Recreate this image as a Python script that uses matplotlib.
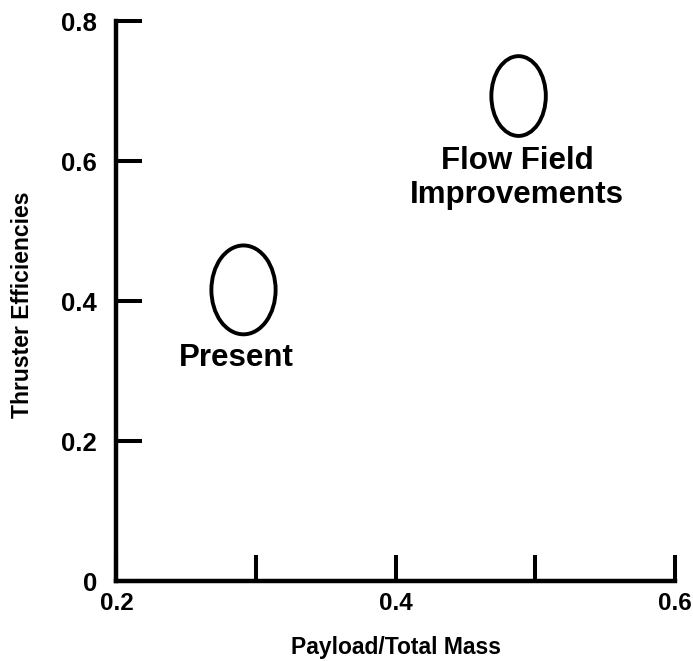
# Thruster efficiency vs payload fraction - two design regions
import matplotlib.pyplot as plt
from matplotlib.patches import Ellipse

plt.rcParams['font.family'] = ['Liberation Sans', 'DejaVu Sans']
plt.rcParams['font.weight'] = 'bold'

# regions (ellipses)
region_names = ['Present', 'Flow Field\nImprovements']
center_x = [0.291, 0.488]
center_y = [0.416, 0.693]
width_x = [0.046, 0.039]
height_y = [0.127, 0.114]
# label anchor: centre x, baseline of first line
label_x = [0.286, 0.487]
label_y = [0.307, 0.589]
line_step = 0.049

x_ticks = [0.2, 0.3, 0.4, 0.5, 0.6]
x_labels = ['0.2', '', '0.4', '', '0.6']
y_ticks = [0, 0.2, 0.4, 0.6, 0.8]
y_labels = ['0', '0.2', '0.4', '0.6', '0.8']

fig = plt.figure(figsize=(6.93, 6.61), dpi=100)
ax = fig.add_axes([0.168, 0.121, 0.806, 0.847])

for i in range(len(region_names)):
    e = Ellipse((center_x[i], center_y[i]), width_x[i], height_y[i],
                fill=False, edgecolor='black', linewidth=2.8)
    ax.add_patch(e)
    for j, line in enumerate(region_names[i].split('\n')):
        ax.text(label_x[i], label_y[i] - j * line_step, line, ha='center',
                va='baseline', fontsize=22.5, fontweight='bold')

ax.set_xlim(0.2, 0.6)
ax.set_ylim(0, 0.8)
ax.set_xticks(x_ticks)
ax.set_xticklabels(x_labels)
ax.set_yticks(y_ticks)
ax.set_yticklabels(y_labels)
ax.tick_params(direction='in', length=19, width=2.9, labelsize=18.5, pad=8)
ax.tick_params(axis='x', labelsize=17.5)
ax.tick_params(axis='y', pad=14)

for side in ['top', 'right']:
    ax.spines[side].set_visible(False)
for side in ['left', 'bottom']:
    ax.spines[side].set_linewidth(3.2)

ax.set_xlabel('Payload/Total Mass', fontsize=16.5, fontweight='bold', va='baseline')
ax.xaxis.set_label_coords(0.5, -0.130)
ax.set_ylabel('Thruster Efficiencies', fontsize=16.5, fontweight='bold', va='center')
ax.yaxis.set_label_coords(-0.168, 0.493)

plt.savefig('out.png')
